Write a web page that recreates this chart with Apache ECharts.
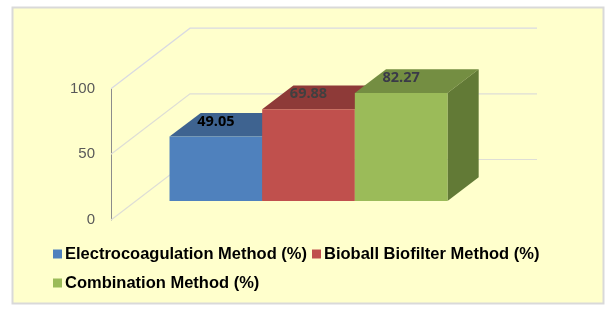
<!DOCTYPE html>
<html>
<head>
<meta charset="utf-8">
<style>html,body{margin:0;padding:0;background:#fff}#c{width:614px;height:312px}</style>
<script src="https://cdn.jsdelivr.net/npm/echarts@6/dist/echarts.min.js"></script>
</head>
<body>
<div id="c"></div>
<script>
var categories = ['Removal efficiency'];
var seriesNames = ['Electrocoagulation Method (%)', 'Bioball Biofilter Method (%)', 'Combination Method (%)'];
var electrocoagulation = [49.05];
var bioball = [69.88];
var combination = [82.27];
var yTicks = [0, 50, 100];
var seriesValues = [electrocoagulation, bioball, combination];
var faceColors = [
  {front: '#4F81BD', top: '#3E6390', side: '#3A5C85'},
  {front: '#C0504D', top: '#8E3A38', side: '#843634'},
  {front: '#9BBB59', top: '#748E42', side: '#627A36'}
];
var labelColors = ['#000000', '#404040', '#3A3A48'];

var chart = echarts.init(document.getElementById('c'), null, {renderer: 'canvas'});

function gridRender(params, api) {
  var cs = params.coordSys;
  var y = api.coord([0, api.value(0)])[1];
  var l = cs.x, dx = 79, dy = -60.5, r = cs.x + cs.width + dx;
  return {type: 'polyline', shape: {points: [[l, y], [l + dx, y + dy], [r, y + dy]]},
    style: {fill: null, stroke: api.value(0) === 100 ? '#D9DAE2' : '#DEDED6', lineWidth: 1.2}};
}

function barRender(i) {
  return function (params, api) {
    var band = api.size([1, 0])[0];
    var w = band * 0.267;
    var offX = 24, offY = -19;
    var c = api.coord([0, api.value(1)]);
    var b = api.coord([0, 0]);
    var cx = c[0] + (i - 1) * w + offX;
    var x0 = cx - w / 2, x1 = cx + w / 2;
    var yT = c[1] + offY, yB = b[1] + offY;
    var dx = 31.2, dy = -23.7;
    var col = faceColors[i];
    return {type: 'group', children: [
      {type: 'polygon', shape: {points: [[x0, yT], [x1, yT], [x1 + dx, yT + dy], [x0 + dx, yT + dy]]}, style: {fill: col.top}},
      {type: 'polygon', shape: {points: [[x1, yT], [x1 + dx, yT + dy], [x1 + dx, yB + dy], [x1, yB]]}, style: {fill: col.side}},
      {type: 'rect', shape: {x: x0, y: yT, width: w, height: yB - yT}, style: {fill: col.front}},
      {type: 'text', z2: 100, style: {x: cx, y: yT - 15, text: api.value(1).toFixed(2), align: 'center', verticalAlign: 'middle',
        fill: labelColors[i], font: '700 14.5px "Open Sans"'}}
    ]};
  };
}

var series = [{
  type: 'custom', name: 'grid', coordinateSystem: 'cartesian2d', silent: true, z: 1,
  data: yTicks.map(function (v) { return [v]; }), encode: {y: 0}, renderItem: gridRender
}];
seriesNames.forEach(function (name, i) {
  series.push({
    type: 'custom', name: name, coordinateSystem: 'cartesian2d', z: 2 + i,
    itemStyle: {color: faceColors[i].front},
    data: [[0, seriesValues[i][0]]], encode: {x: 0, y: 1}, renderItem: barRender(i)
  });
});

chart.setOption({
  animation: false,
  backgroundColor: '#fff',
  graphic: [{type: 'rect', z: -10, shape: {x: 12.5, y: 7.5, width: 591, height: 296},
    style: {fill: '#FFFFCC', stroke: '#D9D9D9', lineWidth: 2}}],
  grid: {left: 111, top: 88.7, width: 347, height: 131.3},
  xAxis: {type: 'category', data: categories, show: false},
  yAxis: {type: 'value', min: 0, max: 100, interval: 50,
    axisLine: {show: true, lineStyle: {color: '#8C8C8C', width: 1}},
    axisTick: {show: false}, splitLine: {show: false},
    axisLabel: {color: '#595959', fontSize: 15, fontFamily: 'Liberation Sans', margin: 16, padding: [2, 0, 0, 0]}},
  legend: {data: seriesNames.map(function (n) { return {name: n, icon: 'rect'}; }),
    left: 48, top: 237, width: 530, orient: 'horizontal', itemWidth: 9, itemHeight: 9, itemGap: 5, selectedMode: false,
    textStyle: {color: '#000', fontSize: 16.5, fontWeight: 'bold', fontFamily: 'Liberation Sans', lineHeight: 24, padding: [0, 0, 0, -2]}},
  series: series
});
</script>
</body>
</html>
